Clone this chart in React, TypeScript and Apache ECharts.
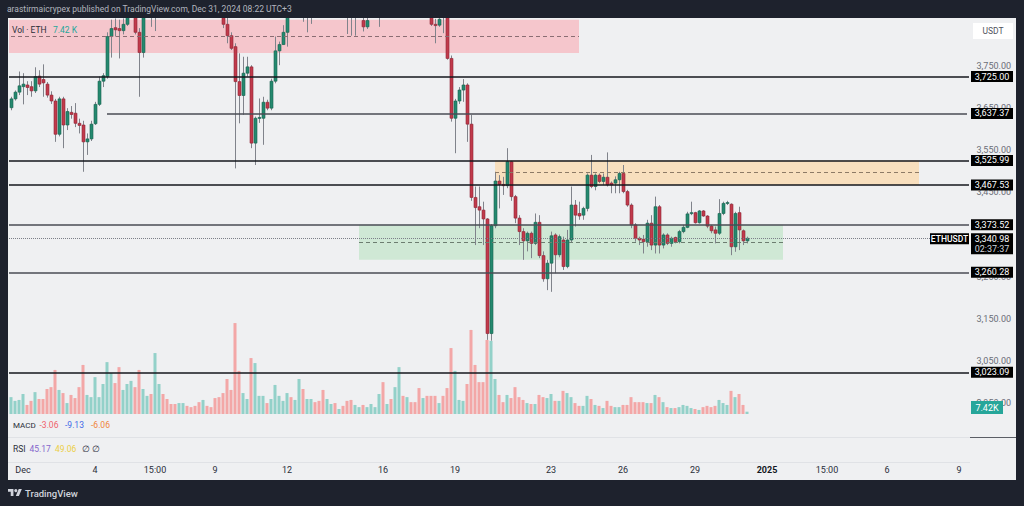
import React, { useEffect, useRef } from "react";
import * as echarts from "echarts";

const FONT = "Roboto, 'Noto Sans', sans-serif";

// ---------- data (4h ETHUSDT bars, UTC, [open, close, low, high]) ----------
const candlesNov30Dec6 = [
  [3651, 3672, 3645, 3677], [3672, 3688, 3668, 3692], [3688, 3703, 3681, 3737], [3701, 3707, 3659, 3733],
  [3705, 3699, 3681, 3714], [3701, 3691, 3677, 3714], [3691, 3725, 3686, 3747], [3726, 3707, 3700, 3740],
  [3718, 3710, 3677, 3754], [3707, 3681, 3675, 3712], [3681, 3667, 3660, 3690], [3667, 3588, 3570, 3672],
  [3588, 3672, 3583, 3677], [3672, 3610, 3555, 3677], [3610, 3642, 3598, 3650], [3640, 3635, 3625, 3655],
  [3638, 3614, 3605, 3662], [3614, 3609, 3590, 3625], [3610, 3570, 3499, 3620], [3570, 3577, 3539, 3590],
  [3577, 3612, 3572, 3620], [3613, 3659, 3610, 3665], [3659, 3714, 3655, 3725], [3714, 3727, 3700, 3733],
  [3725, 3820, 3720, 3830], [3820, 3839, 3770, 3860], [3841, 3836, 3820, 3863], [3839, 3834, 3768, 3860],
  [3834, 3849, 3825, 3863], [3849, 3872, 3845, 3890], [3872, 3895, 3866, 3920], [3895, 3830, 3825, 3905],
  [3830, 3782, 3677, 3840], [3782, 3885, 3770, 3900], [3885, 3910, 3875, 3925], [3910, 3895, 3843, 3930],
  [3895, 3920, 3833, 3935],
];
const candlesDec6Dec12 = [
  [3920, 3985, 3905, 4000], [3985, 3975, 3960, 4010], [3975, 3965, 3950, 3990], [3965, 3955, 3945, 3975],
  [3955, 3950, 3940, 3965], [3950, 3970, 3945, 3980], [3970, 3990, 3960, 4000], [3990, 3985, 3975, 4005],
  [3985, 3978, 3970, 3995], [3978, 3970, 3960, 3990], [3970, 3960, 3950, 3980], [3960, 3975, 3955, 3985],
  [3975, 3955, 3945, 3980], [3955, 3940, 3930, 3960], [3940, 3915, 3905, 3950], [3915, 3870, 3866, 3925],
  [3868, 3849, 3840, 3875], [3849, 3822, 3804, 3865], [3822, 3792, 3788, 3830], [3796, 3713, 3507, 3804],
  [3713, 3680, 3614, 3780], [3680, 3733, 3634, 3772], [3733, 3748, 3725, 3772], [3748, 3567, 3555, 3752],
  [3567, 3626, 3515, 3630], [3626, 3628, 3615, 3673], [3626, 3664, 3563, 3677], [3664, 3650, 3645, 3670],
  [3650, 3714, 3645, 3720], [3714, 3786, 3709, 3820], [3786, 3801, 3752, 3808], [3801, 3830, 3800, 3847],
  [3830, 3870, 3796, 3890],
];
const candlesDec12Dec18 = [
  [3880, 3870, 3866, 3900], [3870, 3895, 3866, 3910], [3895, 3915, 3885, 3930], [3915, 3880, 3855, 3920],
  [3880, 3900, 3830, 3915], [3900, 3910, 3850, 3925], [3910, 3900, 3885, 3920], [3900, 3890, 3875, 3910],
  [3890, 3880, 3870, 3900], [3880, 3905, 3872, 3915], [3905, 3915, 3895, 3925], [3915, 3900, 3890, 3920],
  [3900, 3905, 3892, 3912], [3905, 3890, 3880, 3910], [3890, 3880, 3826, 3900], [3880, 3872, 3822, 3890],
  [3872, 3880, 3822, 3890], [3872, 3878, 3866, 3890], [3858, 3843, 3832, 3870], [3843, 3858, 3838, 3870],
  [3870, 3890, 3866, 3900], [3890, 3905, 3880, 3915], [3905, 3915, 3843, 3925], [3915, 3905, 3890, 3935],
  [3905, 3960, 3900, 3975], [3960, 3950, 3935, 3990], [3950, 4020, 3945, 4040], [4020, 4080, 4010, 4105],
  [4080, 4050, 4030, 4095], [4050, 4060, 4040, 4075], [4060, 4030, 4020, 4065], [4030, 4000, 3990, 4040],
  [4000, 3950, 3940, 4010], [3950, 3965, 3940, 3980], [3965, 3890, 3880, 3970], [3880, 3849, 3845, 3890],
  [3849, 3846, 3804, 3862], [3847, 3861, 3843, 3875], [3880, 3870, 3828, 3895],
];
const candlesDec18Dec24 = [
  [3870, 3768, 3765, 3890], [3768, 3626, 3618, 3775], [3626, 3667, 3543, 3672], [3667, 3693, 3660, 3700],
  [3693, 3705, 3665, 3719], [3705, 3612, 3570, 3709], [3612, 3438, 3430, 3634], [3438, 3414, 3325, 3464],
  [3416, 3408, 3365, 3464], [3408, 3387, 3325, 3428], [3387, 3115, 3100, 3389], [3115, 3371, 3098, 3375],
  [3371, 3477, 3365, 3499], [3477, 3469, 3412, 3491], [3469, 3466, 3444, 3487], [3466, 3523, 3460, 3555],
  [3523, 3440, 3430, 3525], [3440, 3389, 3377, 3444], [3389, 3357, 3325, 3396], [3357, 3335, 3290, 3365],
  [3335, 3353, 3310, 3357], [3353, 3329, 3294, 3357], [3329, 3379, 3325, 3400], [3379, 3300, 3294, 3396],
  [3300, 3245, 3238, 3310], [3245, 3282, 3218, 3290], [3282, 3347, 3214, 3357], [3349, 3302, 3258, 3353],
  [3302, 3345, 3296, 3350], [3337, 3274, 3266, 3345], [3274, 3337, 3270, 3361], [3337, 3420, 3330, 3464],
  [3420, 3396, 3369, 3432], [3400, 3394, 3385, 3428], [3396, 3412, 3385, 3416], [3412, 3491, 3405, 3495],
];
const candlesDec24Dec31 = [
  [3491, 3464, 3460, 3539], [3464, 3491, 3455, 3495], [3491, 3476, 3472, 3495], [3476, 3486, 3468, 3495],
  [3486, 3468, 3464, 3545], [3472, 3468, 3448, 3476], [3472, 3480, 3448, 3488], [3480, 3495, 3448, 3499],
  [3495, 3452, 3448, 3515], [3452, 3420, 3416, 3456], [3420, 3373, 3365, 3424], [3373, 3341, 3333, 3377],
  [3341, 3337, 3325, 3345], [3339, 3333, 3305, 3349], [3333, 3377, 3321, 3385], [3377, 3325, 3313, 3396],
  [3325, 3416, 3305, 3440], [3416, 3325, 3305, 3420], [3325, 3349, 3317, 3353], [3349, 3329, 3325, 3353],
  [3329, 3341, 3321, 3345], [3343, 3333, 3329, 3345], [3333, 3357, 3329, 3361], [3357, 3367, 3353, 3373],
  [3367, 3399, 3365, 3404], [3400, 3402, 3396, 3428], [3402, 3378, 3376, 3404], [3378, 3406, 3376, 3408],
  [3406, 3394, 3392, 3408], [3394, 3370, 3365, 3396], [3370, 3359, 3353, 3373], [3361, 3353, 3329, 3369],
  [3353, 3400, 3349, 3434], [3400, 3424, 3396, 3428], [3424, 3426, 3420, 3430], [3422, 3321, 3301, 3424],
  [3321, 3400, 3309, 3404], [3402, 3361, 3313, 3416], [3359, 3335, 3325, 3362], [3335, 3340.98, 3329, 3345],
];

// volume in thousands of ETH, one per bar
const volumeK = [
  54, 42, 45, 64, 29, 42, 70, 48, 48, 80, 86, 141, 77, 67, 35, 61, 51, 86, 157, 61,
  54, 118, 54, 96, 166, 131, 99, 150, 77, 96, 106, 86, 141, 80, 58, 64, 195, 96, 64, 48,
  32, 32, 35, 35, 26, 22, 26, 38, 45, 26, 22, 51, 54, 67, 112, 77, 291, 138, 67, 48,
  179, 163, 58, 58, 35, 48, 93, 58, 42, 67, 54, 45, 112, 80, 48, 48, 38, 42, 77, 48,
  32, 35, 16, 26, 42, 45, 29, 22, 29, 22, 32, 22, 64, 102, 32, 48, 86, 150, 58, 54,
  38, 38, 83, 51, 58, 58, 58, 35, 58, 83, 211, 138, 45, 42, 96, 269, 157, 102, 102, 237,
  234, 112, 61, 38, 61, 51, 86, 54, 45, 35, 32, 32, 61, 54, 51, 64, 42, 42, 74, 67,
  54, 35, 26, 26, 58, 48, 29, 26, 19, 42, 26, 22, 22, 29, 29, 54, 38, 38, 38, 35,
  35, 61, 54, 38, 22, 19, 19, 22, 29, 26, 19, 16, 13, 22, 26, 22, 26, 45, 35, 29,
  74, 54, 64, 29, 7.42,
];

const priceTicks = [2950, 3050, 3150, 3250, 3450, 3550, 3650, 3750];
const levelLines = [3725, 3637.37, 3525.99, 3467.53, 3373.52, 3260.28, 3023.09];
const grayLevels = [3637.37, 3373.52, 3260.28];
const lastPrice = 3340.98;
const timeTickIndex = [3, 21, 36, 51, 69, 93, 111, 135, 153, 171, 189, 204, 219, 237];
const timeTickText = ["Dec", "4", "15:00", "9", "12", "16", "19", "23", "26", "29", "2025", "15:00", "6", "9"];

// zones: [startSlot, endSlot, top, bottom, mid]
const supplyZoneTop = [0, 142, 3860, 3781, 3820];
const supplyZoneMid = [121, 227, 3525.99, 3467.53, 3496.76];
const demandZone = [87, 193, 3373.52, 3290, 3331.8];

const SLOTS = 240;
const startMs = Date.UTC(2024, 10, 30, 12);
const categories = Array.from({ length: SLOTS }, (_, i) =>
  new Date(startMs + i * 4 * 3600e3).toISOString().slice(0, 16).replace("T", " ")
);

const allCandles = [
  ...candlesNov30Dec6,
  ...candlesDec6Dec12,
  ...candlesDec12Dec18,
  ...candlesDec18Dec24,
  ...candlesDec24Dec31,
];

echarts.graphic.registerShape(
  "tvlogo",
  echarts.graphic.extendPath("M14 22H7V11H0V4h14v18zM28 22h-8l7.5-18h8L28 22z", {})
);

const fmtPrice = (v: number) =>
  v.toLocaleString("en-US", { minimumFractionDigits: 2, maximumFractionDigits: 2 });

const UP = "#24896f";
const UP_EDGE = "#17634f";
const DOWN = "#c13a4b";
const DOWN_EDGE = "#8f2736";

export default function App() {
  const ref = useRef<HTMLDivElement>(null);

  useEffect(() => {
    const chart = echarts.init(ref.current!, null, { renderer: "svg" });

    const candleData = allCandles.map((c, i) => [i, c[0], c[1], c[2], c[3]]);
    const volData = volumeK.map((v, i) => {
      const c = allCandles[i];
      const up = c[1] >= c[0];
      return { value: v, itemStyle: { color: up ? "#93d1c9" : "#f3a7a7" } };
    });

    const dark = { color: "#15171d", width: 1.5, type: "solid" };
    const gray = { color: "#4a4d55", width: 1.5, type: "solid" };

    const markLines: any[] = levelLines.map((lv) => {
      const style = grayLevels.includes(lv) ? gray : dark;
      if (lv === 3637.37) {
        return [
          { coord: [categories[24], lv], lineStyle: style },
          { coord: [categories[239], lv] },
        ];
      }
      return { yAxis: lv, lineStyle: style };
    });
    markLines.push({ yAxis: lastPrice, lineStyle: { type: "dotted", color: "#7c7f88", width: 1 } });
    const zoneMid = (z: number[], color: string) => [
      { coord: [categories[z[0]], z[4]], lineStyle: { type: [4, 3], color, width: 1 } },
      { coord: [categories[z[1]], z[4]] },
    ];
    markLines.push(zoneMid(supplyZoneTop, "#8a6d73"));
    markLines.push(zoneMid(supplyZoneMid, "#8d7a66"));
    markLines.push(zoneMid(demandZone, "#6c7d70"));

    const option: any = {
      animation: false,
      backgroundColor: "#1e222d",
      textStyle: { fontFamily: FONT },
      grid: [
        { left: 9, top: 18, width: 960, height: 396 },
        { left: 9, top: 314, width: 960, height: 100 },
      ],
      xAxis: [
        {
          type: "category",
          gridIndex: 0,
          data: categories,
          boundaryGap: true,
          axisLine: { show: false },
          axisTick: { show: false },
          splitLine: { show: false },
          axisLabel: {
            interval: 0,
            margin: 51,
            fontSize: 9,
            fontFamily: FONT,
            color: "#2a2e39",
            formatter: (_v: string, idx: number) => {
              const k = timeTickIndex.indexOf(idx);
              if (k < 0) return "";
              return timeTickText[k] === "2025" ? "{b|2025}" : timeTickText[k];
            },
            rich: { b: { fontWeight: "bold", fontSize: 9, fontFamily: FONT, color: "#131722" } },
          },
        },
        {
          type: "category",
          gridIndex: 1,
          data: categories,
          boundaryGap: true,
          show: false,
        },
      ],
      yAxis: [
        {
          type: "value",
          gridIndex: 0,
          position: "right",
          min: 2924,
          max: 3864,
          splitLine: { show: false },
          axisLine: { show: false },
          axisTick: { show: false },
          axisLabel: {
            customValues: priceTicks,
            formatter: (v: number) => fmtPrice(v),
            margin: 42,
            align: "right",
            fontSize: 9,
            fontFamily: FONT,
            color: "#6b6e78",
          },
        },
        { type: "value", gridIndex: 1, min: 0, max: 320, show: false },
      ],
      series: [
        {
          type: "bar",
          xAxisIndex: 1,
          yAxisIndex: 1,
          z: 1,
          barWidth: 3,
          silent: true,
          data: volData,
        },
        {
          type: "line",
          xAxisIndex: 0,
          yAxisIndex: 0,
          z: 2,
          silent: true,
          data: [],
          markArea: {
            silent: true,
            data: [
              [
                { yAxis: supplyZoneTop[2], itemStyle: { color: "#f5c6cc" } },
                { xAxis: categories[supplyZoneTop[1]], yAxis: supplyZoneTop[3] },
              ],
              [
                { xAxis: categories[supplyZoneMid[0]], yAxis: supplyZoneMid[2], itemStyle: { color: "#f8dfbe" } },
                { xAxis: categories[supplyZoneMid[1]], yAxis: supplyZoneMid[3] },
              ],
              [
                { xAxis: categories[demandZone[0]], yAxis: demandZone[2], itemStyle: { color: "#cfe8d5" } },
                { xAxis: categories[demandZone[1]], yAxis: demandZone[3] },
              ],
            ],
          },
          markLine: {
            silent: true,
            symbol: ["none", "none"],
            label: { show: false },
            data: markLines,
          },
        },
        {
          type: "custom",
          xAxisIndex: 0,
          yAxisIndex: 0,
          z: 3,
          clip: true,
          silent: true,
          data: candleData,
          encode: { x: 0, y: [1, 2, 3, 4] },
          renderItem: (params: any, api: any) => {
            const i = api.value(0);
            const o = api.value(1);
            const c = api.value(2);
            const l = api.value(3);
            const h = api.value(4);
            const pO = api.coord([i, o]);
            const pC = api.coord([i, c]);
            const pL = api.coord([i, l]);
            const pH = api.coord([i, h]);
            const up = c >= o;
            const cx = Math.round(pO[0]);
            const top = Math.min(pO[1], pC[1]);
            const bh = Math.max(1, Math.abs(pO[1] - pC[1]));
            return {
              type: "group",
              children: [
                {
                  type: "line",
                  shape: { x1: cx + 0.5, y1: pH[1], x2: cx + 0.5, y2: pL[1] },
                  style: { stroke: "#80838b", lineWidth: 1 },
                },
                {
                  type: "rect",
                  shape: { x: cx - 1, y: top, width: 3, height: bh },
                  style: { fill: up ? UP : DOWN, stroke: up ? UP_EDGE : DOWN_EDGE, lineWidth: 0.6 },
                },
              ],
            };
          },
        },
      ],
    };

    chart.setOption(option);

    const yOf = (p: number) => chart.convertToPixel({ yAxisIndex: 0 }, p) as number;
    const txt = (
      x: number,
      y: number,
      text: string,
      fill: string,
      size = 9,
      align = "left",
      weight: any = "normal"
    ) => ({
      type: "text",
      x,
      y,
      z: 60,
      silent: true,
      style: {
        text,
        fill,
        fontSize: size,
        fontFamily: FONT,
        fontWeight: weight,
        align,
        verticalAlign: "middle",
      },
    });

    const els: any[] = [];
    // panel background
    els.push({
      type: "rect",
      z: -10,
      silent: true,
      shape: { x: 8, y: 18, width: 1008, height: 462 },
      style: { fill: "#eff0f2" },
    });
    // pane separators
    [437.5, 462.5].forEach((yy) =>
      els.push({
        type: "line",
        z: -9,
        silent: true,
        shape: { x1: 8, y1: yy, x2: 970, y2: yy },
        style: { stroke: "#e0e2e6", lineWidth: 1 },
      })
    );
    els.push({
      type: "line",
      z: 55,
      silent: true,
      shape: { x1: 970, y1: 437.5, x2: 1016, y2: 437.5 },
      style: { stroke: "#5b5e66", lineWidth: 1 },
    });

    // level labels on the price scale
    levelLines.forEach((lv) => {
      const py = yOf(lv);
      els.push({
        type: "rect",
        z: 58,
        silent: true,
        shape: { x: 971, y: py - 5.5, width: 42, height: 11 },
        style: { fill: "#000000" },
      });
      els.push(txt(992, py, fmtPrice(lv), "#ffffff", 9, "center"));
    });

    // last price label
    const lp = yOf(lastPrice);
    els.push({
      type: "rect",
      z: 58,
      silent: true,
      shape: { x: 971, y: lp - 5, width: 42, height: 21 },
      style: { fill: "#000000" },
    });
    els.push(txt(992, lp + 0.5, fmtPrice(lastPrice), "#ffffff", 9, "center"));
    els.push(txt(992, lp + 10.5, "02:37:37", "#d1d4dc", 9, "center"));
    els.push({
      type: "rect",
      z: 58,
      silent: true,
      shape: { x: 930, y: lp - 5, width: 39, height: 11 },
      style: { fill: "#000000" },
    });
    els.push(txt(949.5, lp + 0.5, "ETHUSDT", "#ffffff", 8.5, "center", 500));

    // volume label
    els.push({
      type: "rect",
      z: 58,
      silent: true,
      shape: { x: 971, y: 401, width: 32, height: 13 },
      style: { fill: "#26a69a" },
    });
    els.push(txt(987, 407.5, "7.42K", "#ffffff", 9, "center"));

    // currency box
    els.push({
      type: "rect",
      z: 58,
      silent: true,
      shape: { x: 973, y: 23, width: 40, height: 16 },
      style: { fill: "#ffffff" },
    });
    els.push(txt(993, 31, "USDT", "#50535e", 8.5, "center"));

    // pane legends
    els.push(txt(12, 30, "Vol · ETH", "#2a2e39", 8.5));
    els.push(txt(53, 30, "7.42 K", "#26a69a", 8.5));
    els.push(txt(13, 425, "MACD", "#2a2e39", 8));
    els.push(txt(39.5, 425, "-3.06", "#ef5f6b", 8.5));
    els.push(txt(65, 425, "-9.13", "#3f6ae8", 8.5));
    els.push(txt(91, 425, "-6.06", "#f0843a", 8.5));
    els.push(txt(13, 449, "RSI", "#2a2e39", 8.5));
    els.push(txt(29.5, 449, "45.17", "#8466cc", 8.5));
    els.push(txt(55, 449, "49.06", "#eccf45", 8.5));
    els.push(txt(82, 449, "∅", "#2a2e39", 8.5));
    els.push(txt(92, 449, "∅", "#2a2e39", 8.5));

    // header and footer
    els.push(
      txt(7, 9, "arastirmaicrypex published on TradingView.com, Dec 31, 2024 08:22 UTC+3", "#b2b5be", 8.5)
    );
    els.push({
      type: "tvlogo",
      x: 8,
      y: 487.5,
      scaleX: 0.39,
      scaleY: 0.39,
      z: 60,
      silent: true,
      style: { fill: "#d1d4dc" },
    });
    els.push({
      type: "circle",
      z: 60,
      silent: true,
      shape: { cx: 8 + 20 * 0.39, cy: 487.5 + 8 * 0.39, r: 4 * 0.39 },
      style: { fill: "#d1d4dc" },
    });
    els.push(txt(25, 493, "TradingView", "#d1d4dc", 9.5, "left", 500));

    chart.setOption({ graphic: { elements: els } });

    return () => chart.dispose();
  }, []);

  return (
    <div
      ref={ref}
      style={{ position: "fixed", left: 0, top: 0, width: 1024, height: 506 }}
    />
  );
}
